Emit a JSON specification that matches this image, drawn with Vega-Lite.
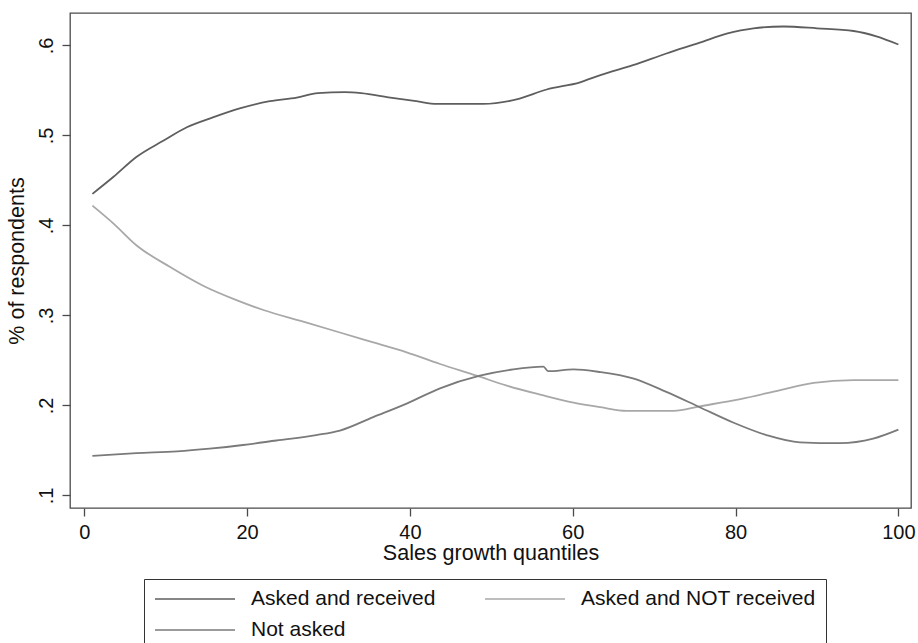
{
  "$schema": "https://vega.github.io/schema/vega-lite/v6.json",
  "width": 841,
  "height": 495,
  "autosize": {"type": "none"},
  "padding": {"left": 70, "top": 13, "right": 7, "bottom": 135},
  "background": "white",
  "config": {
    "font": "Liberation Sans",
    "view": {"stroke": "#4a4a4a", "strokeWidth": 1.3},
    "axis": {"grid": false, "domain": false, "tickColor": "#4a4a4a", "tickSize": 8, "tickWidth": 1.3, "labelFont": "Liberation Sans", "titleFont": "Liberation Sans", "labelFontSize": 20, "titleFontSize": 21.5, "labelColor": "#111", "titleColor": "#111", "titleFontWeight": "normal"}
  },
  "data": {"values": [
    {"quantile": 1, "share": 0.435, "group": "Asked and received"},
    {"quantile": 3.6, "share": 0.454, "group": "Asked and received"},
    {"quantile": 6.4, "share": 0.476, "group": "Asked and received"},
    {"quantile": 9.7, "share": 0.494, "group": "Asked and received"},
    {"quantile": 12.6, "share": 0.509, "group": "Asked and received"},
    {"quantile": 15.8, "share": 0.520, "group": "Asked and received"},
    {"quantile": 19.1, "share": 0.530, "group": "Asked and received"},
    {"quantile": 22.8, "share": 0.538, "group": "Asked and received"},
    {"quantile": 26.1, "share": 0.542, "group": "Asked and received"},
    {"quantile": 28.7, "share": 0.547, "group": "Asked and received"},
    {"quantile": 32, "share": 0.548, "group": "Asked and received"},
    {"quantile": 34, "share": 0.547, "group": "Asked and received"},
    {"quantile": 37.6, "share": 0.542, "group": "Asked and received"},
    {"quantile": 40.8, "share": 0.538, "group": "Asked and received"},
    {"quantile": 43.3, "share": 0.535, "group": "Asked and received"},
    {"quantile": 46, "share": 0.535, "group": "Asked and received"},
    {"quantile": 49, "share": 0.535, "group": "Asked and received"},
    {"quantile": 53.1, "share": 0.540, "group": "Asked and received"},
    {"quantile": 56.8, "share": 0.551, "group": "Asked and received"},
    {"quantile": 60.9, "share": 0.559, "group": "Asked and received"},
    {"quantile": 63.4, "share": 0.567, "group": "Asked and received"},
    {"quantile": 67.4, "share": 0.578, "group": "Asked and received"},
    {"quantile": 71.5, "share": 0.591, "group": "Asked and received"},
    {"quantile": 75.6, "share": 0.603, "group": "Asked and received"},
    {"quantile": 78.9, "share": 0.613, "group": "Asked and received"},
    {"quantile": 82.2, "share": 0.619, "group": "Asked and received"},
    {"quantile": 85.9, "share": 0.621, "group": "Asked and received"},
    {"quantile": 90, "share": 0.619, "group": "Asked and received"},
    {"quantile": 94.5, "share": 0.616, "group": "Asked and received"},
    {"quantile": 97.3, "share": 0.610, "group": "Asked and received"},
    {"quantile": 100, "share": 0.601, "group": "Asked and received"},
    {"quantile": 1, "share": 0.422, "group": "Asked and NOT received"},
    {"quantile": 3.6, "share": 0.402, "group": "Asked and NOT received"},
    {"quantile": 6.4, "share": 0.378, "group": "Asked and NOT received"},
    {"quantile": 10.5, "share": 0.354, "group": "Asked and NOT received"},
    {"quantile": 14.6, "share": 0.333, "group": "Asked and NOT received"},
    {"quantile": 18.7, "share": 0.317, "group": "Asked and NOT received"},
    {"quantile": 22, "share": 0.306, "group": "Asked and NOT received"},
    {"quantile": 26.9, "share": 0.293, "group": "Asked and NOT received"},
    {"quantile": 31.4, "share": 0.281, "group": "Asked and NOT received"},
    {"quantile": 35.5, "share": 0.270, "group": "Asked and NOT received"},
    {"quantile": 39.6, "share": 0.259, "group": "Asked and NOT received"},
    {"quantile": 43.7, "share": 0.246, "group": "Asked and NOT received"},
    {"quantile": 48.2, "share": 0.233, "group": "Asked and NOT received"},
    {"quantile": 51.9, "share": 0.222, "group": "Asked and NOT received"},
    {"quantile": 56, "share": 0.212, "group": "Asked and NOT received"},
    {"quantile": 60.1, "share": 0.203, "group": "Asked and NOT received"},
    {"quantile": 63.4, "share": 0.198, "group": "Asked and NOT received"},
    {"quantile": 66.6, "share": 0.194, "group": "Asked and NOT received"},
    {"quantile": 72.4, "share": 0.194, "group": "Asked and NOT received"},
    {"quantile": 75.6, "share": 0.199, "group": "Asked and NOT received"},
    {"quantile": 80.6, "share": 0.207, "group": "Asked and NOT received"},
    {"quantile": 85.5, "share": 0.217, "group": "Asked and NOT received"},
    {"quantile": 89.6, "share": 0.225, "group": "Asked and NOT received"},
    {"quantile": 94.5, "share": 0.228, "group": "Asked and NOT received"},
    {"quantile": 100, "share": 0.228, "group": "Asked and NOT received"},
    {"quantile": 1, "share": 0.144, "group": "Not asked"},
    {"quantile": 6.4, "share": 0.147, "group": "Not asked"},
    {"quantile": 11.4, "share": 0.149, "group": "Not asked"},
    {"quantile": 15.4, "share": 0.152, "group": "Not asked"},
    {"quantile": 19.5, "share": 0.156, "group": "Not asked"},
    {"quantile": 23.6, "share": 0.161, "group": "Not asked"},
    {"quantile": 28.5, "share": 0.167, "group": "Not asked"},
    {"quantile": 31.4, "share": 0.172, "group": "Not asked"},
    {"quantile": 35.5, "share": 0.187, "group": "Not asked"},
    {"quantile": 39.6, "share": 0.202, "group": "Not asked"},
    {"quantile": 43.7, "share": 0.219, "group": "Not asked"},
    {"quantile": 48.6, "share": 0.233, "group": "Not asked"},
    {"quantile": 52.7, "share": 0.240, "group": "Not asked"},
    {"quantile": 56.4, "share": 0.243, "group": "Not asked"},
    {"quantile": 57, "share": 0.238, "group": "Not asked"},
    {"quantile": 60.1, "share": 0.240, "group": "Not asked"},
    {"quantile": 63.4, "share": 0.237, "group": "Not asked"},
    {"quantile": 67.4, "share": 0.230, "group": "Not asked"},
    {"quantile": 71.5, "share": 0.215, "group": "Not asked"},
    {"quantile": 75.6, "share": 0.198, "group": "Not asked"},
    {"quantile": 79.7, "share": 0.181, "group": "Not asked"},
    {"quantile": 83.8, "share": 0.167, "group": "Not asked"},
    {"quantile": 87.9, "share": 0.159, "group": "Not asked"},
    {"quantile": 92.8, "share": 0.158, "group": "Not asked"},
    {"quantile": 96.9, "share": 0.163, "group": "Not asked"},
    {"quantile": 100, "share": 0.173, "group": "Not asked"}
  ]},
  "mark": {"type": "line", "strokeWidth": 1.8, "interpolate": "monotone"},
  "encoding": {
    "x": {
      "field": "quantile", "type": "quantitative",
      "scale": {"domain": [-1.75, 101.55], "nice": false, "zero": false},
      "axis": {"values": [0, 20, 40, 60, 80, 100], "title": "Sales growth quantiles", "labelPadding": 6, "titlePadding": 0}
    },
    "y": {
      "field": "share", "type": "quantitative",
      "scale": {"domain": [0.086, 0.636], "nice": false, "zero": false},
      "axis": {"values": [0.1, 0.2, 0.3, 0.4, 0.5, 0.6], "labelExpr": "replace(format(datum.value, '.1f'), '0.', '.')", "labelAngle": -90, "labelAlign": "center", "labelBaseline": "bottom", "labelPadding": 6, "title": "% of respondents", "titlePadding": 8}
    },
    "color": {
      "field": "group", "type": "nominal",
      "scale": {"domain": ["Asked and received", "Asked and NOT received", "Not asked"], "range": ["#5e5e5e", "#a8a8a8", "#7a7a7a"]},
      "legend": {
        "title": null, "orient": "none", "legendX": 74, "legendY": 566, "columns": 2, "direction": "horizontal",
        "symbolType": "stroke", "symbolSize": 6400, "symbolStrokeWidth": 1.4, "clipHeight": 20, "rowPadding": 10,
        "columnPadding": 48, "labelOffset": 15, "labelFontSize": 21, "labelFont": "Liberation Sans", "labelColor": "#111", "labelLimit": 400,
        "padding": 10, "strokeColor": "#333", "fillColor": "white"
      }
    }
  }
}
